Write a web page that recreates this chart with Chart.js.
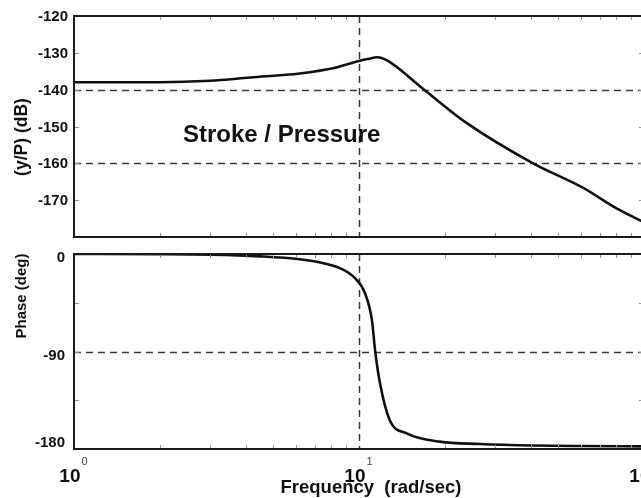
<!DOCTYPE html>
<html>
<head>
<meta charset="utf-8">
<script src="https://cdn.jsdelivr.net/npm/chart.js@4.4.0/dist/chart.umd.min.js"></script>
<style>
  html, body { margin: 0; padding: 0; background: #fff; overflow: hidden; width: 641px; height: 498px; }
  #top { position: absolute; left: 0; top: 0; width: 700px; height: 245px; }
  #bot { position: absolute; left: 0; top: 245px; width: 700px; height: 253px; }
</style>
</head>
<body>
<div id="top"><canvas id="magChart"></canvas></div>
<div id="bot"><canvas id="phaseChart"></canvas></div>
<script>
// magnitude response
const MAG_FREQ = [1, 2, 3, 4.15, 6.2, 8.1, 10, 10.7, 11.6, 12.5, 16.8, 23.9, 40.8, 61, 80.4, 100];
const MAG_DB = [-138.0, -138.0, -137.6, -136.7, -135.6, -134.2, -132.2, -131.7, -131.2, -132.0, -139.8, -149.1, -160.0, -166.6, -172.3, -176.0];

// phase response
const PHASE_FREQ = [1, 2, 3, 4.5, 6.2, 7.3, 8.6, 9.7, 10.5, 11.1, 11.4, 11.85, 12.8, 14.7, 19.2, 26.6, 40.8, 60, 100];
const PHASE_DEG = [0, -0.2, -0.7, -2.2, -4.8, -7.8, -13.2, -22.5, -36.3, -61, -90, -119.4, -153, -165.5, -173.2, -175.4, -176.8, -177.3, -177.6];

// ticks
const DB_TICKS = [-120, -130, -140, -150, -160, -170];
const DB_DASHED = [-140, -160];
const PHASE_TICKS = [0, -90, -180];
const PHASE_MINOR = [0, -45, -90, -135, -180];
const PHASE_DASHED = [-90];
const FREQ_DASHED = [10];
const FREQ_MINOR = [2, 3, 4, 5, 6, 7, 8, 9, 20, 30, 40, 50, 60, 70, 80, 90];
const FREQ_DECADES = [1, 10, 100];
const FREQ_EXP = ["0", "1", "2"];

const FONT = '"Liberation Sans", Arial, sans-serif';

function toPoints(xs, ys) {
  return xs.map((x, i) => ({ x: x, y: ys[i] }));
}

const bodePlugin = {
  id: "bode",
  beforeDatasetsDraw(chart, args, opts) {
    const { ctx, chartArea: a, scales: { x, y } } = chart;
    ctx.save();
    ctx.strokeStyle = "#3a3a3a";
    ctx.lineWidth = 1.5;
    ctx.setLineDash([7, 5]);
    opts.yDashed.forEach((v) => {
      const py = Math.round(y.getPixelForValue(v)) + 0.5;
      ctx.beginPath();
      ctx.moveTo(a.left, py);
      ctx.lineTo(a.right, py);
      ctx.stroke();
    });
    FREQ_DASHED.forEach((v) => {
      const px = Math.round(x.getPixelForValue(v)) + 0.5;
      ctx.beginPath();
      ctx.moveTo(px, a.top);
      ctx.lineTo(px, a.bottom);
      ctx.stroke();
    });
    ctx.restore();
  },
  afterDatasetsDraw(chart, args, opts) {
    const { ctx, chartArea: a, scales: { x, y } } = chart;
    ctx.save();

    // small inward ticks
    ctx.strokeStyle = "#999";
    ctx.lineWidth = 1;
    FREQ_MINOR.forEach((v) => {
      const px = Math.round(x.getPixelForValue(v)) + 0.5;
      ctx.beginPath();
      ctx.moveTo(px, a.top); ctx.lineTo(px, a.top + 4);
      ctx.moveTo(px, a.bottom); ctx.lineTo(px, a.bottom - 4);
      ctx.stroke();
    });
    opts.yMinor.forEach((v) => {
      const py = Math.round(y.getPixelForValue(v)) + 0.5;
      ctx.beginPath();
      ctx.moveTo(a.left, py); ctx.lineTo(a.left + 5, py);
      ctx.moveTo(a.right, py); ctx.lineTo(a.right - 5, py);
      ctx.stroke();
    });

    // frame
    ctx.strokeStyle = "#1a1a1a";
    ctx.lineWidth = 2;
    ctx.strokeRect(a.left, a.top, a.right - a.left, a.bottom - a.top);

    // y tick labels
    ctx.fillStyle = "#111";
    ctx.font = "bold 15px " + FONT;
    ctx.textAlign = "right";
    ctx.textBaseline = "middle";
    opts.yTicks.forEach((v) => {
      let py = y.getPixelForValue(v) + opts.labelShift;
      py = Math.min(py, a.bottom - 6);
      ctx.fillText(String(v), opts.labelRight, py);
    });

    // y title
    ctx.save();
    ctx.translate(22, opts.titleY);
    ctx.rotate(-Math.PI / 2);
    ctx.textAlign = "center";
    ctx.font = "bold " + opts.titleSize + "px " + FONT;
    ctx.fillText(opts.title, 0, 0);
    ctx.restore();

    if (opts.note) {
      ctx.textAlign = "left";
      ctx.textBaseline = "alphabetic";
      ctx.font = "bold 24px " + FONT;
      ctx.fillText(opts.note, 183, 142);
    }

    if (opts.xLabels) {
      ctx.textBaseline = "alphabetic";
      FREQ_DECADES.forEach((v, i) => {
        const px = x.getPixelForValue(v);
        ctx.font = "bold 19px " + FONT;
        const w1 = ctx.measureText("10").width;
        ctx.font = "11px " + FONT;
        const w2 = ctx.measureText(FREQ_EXP[i]).width;
        const left = px - (w1 + w2) / 2 - 1;
        ctx.font = "bold 19px " + FONT;
        ctx.textAlign = "left";
        ctx.fillText("10", left, a.bottom + 33);
        ctx.font = "11px " + FONT;
        ctx.fillStyle = "#444";
        ctx.fillText(FREQ_EXP[i], left + w1 + 1, a.bottom + 16);
        ctx.fillStyle = "#111";
      });
      ctx.font = "bold 18.5px " + FONT;
      ctx.textAlign = "center";
      ctx.fillText("Frequency  (rad/sec)", 371, a.bottom + 44);
    }
    ctx.restore();
  }
};

function makeChart(id, points, yMin, yMax, padding, plug) {
  return new Chart(document.getElementById(id), {
    type: "line",
    data: {
      datasets: [{
        data: points,
        borderColor: "#111",
        borderWidth: 2.6,
        pointRadius: 0,
        fill: false,
        cubicInterpolationMode: "monotone"
      }]
    },
    options: {
      responsive: true,
      maintainAspectRatio: false,
      animation: false,
      layout: { padding: padding },
      scales: {
        x: { type: "logarithmic", min: 1, max: 100, display: false },
        y: { type: "linear", min: yMin, max: yMax, display: false }
      },
      plugins: {
        legend: { display: false },
        tooltip: { enabled: false },
        bode: plug
      }
    },
    plugins: [bodePlugin]
  });
}

makeChart("magChart", toPoints(MAG_FREQ, MAG_DB), -180, -120,
  { left: 74, right: 56, top: 16, bottom: 8 },
  {
    yTicks: DB_TICKS, yMinor: DB_TICKS, yDashed: DB_DASHED,
    labelShift: 1, labelRight: 68, title: "(y/P) (dB)", titleSize: 17.5, titleY: 137,
    note: "Stroke / Pressure", xLabels: false
  });

makeChart("phaseChart", toPoints(PHASE_FREQ, PHASE_DEG), -180, 0,
  { left: 74, right: 56, top: 9, bottom: 49 },
  {
    yTicks: PHASE_TICKS, yMinor: PHASE_MINOR, yDashed: PHASE_DASHED,
    labelShift: 4, labelRight: 65, title: "Phase (deg)", titleSize: 15, titleY: 51,
    note: null, xLabels: true
  });
</script>
</body>
</html>
